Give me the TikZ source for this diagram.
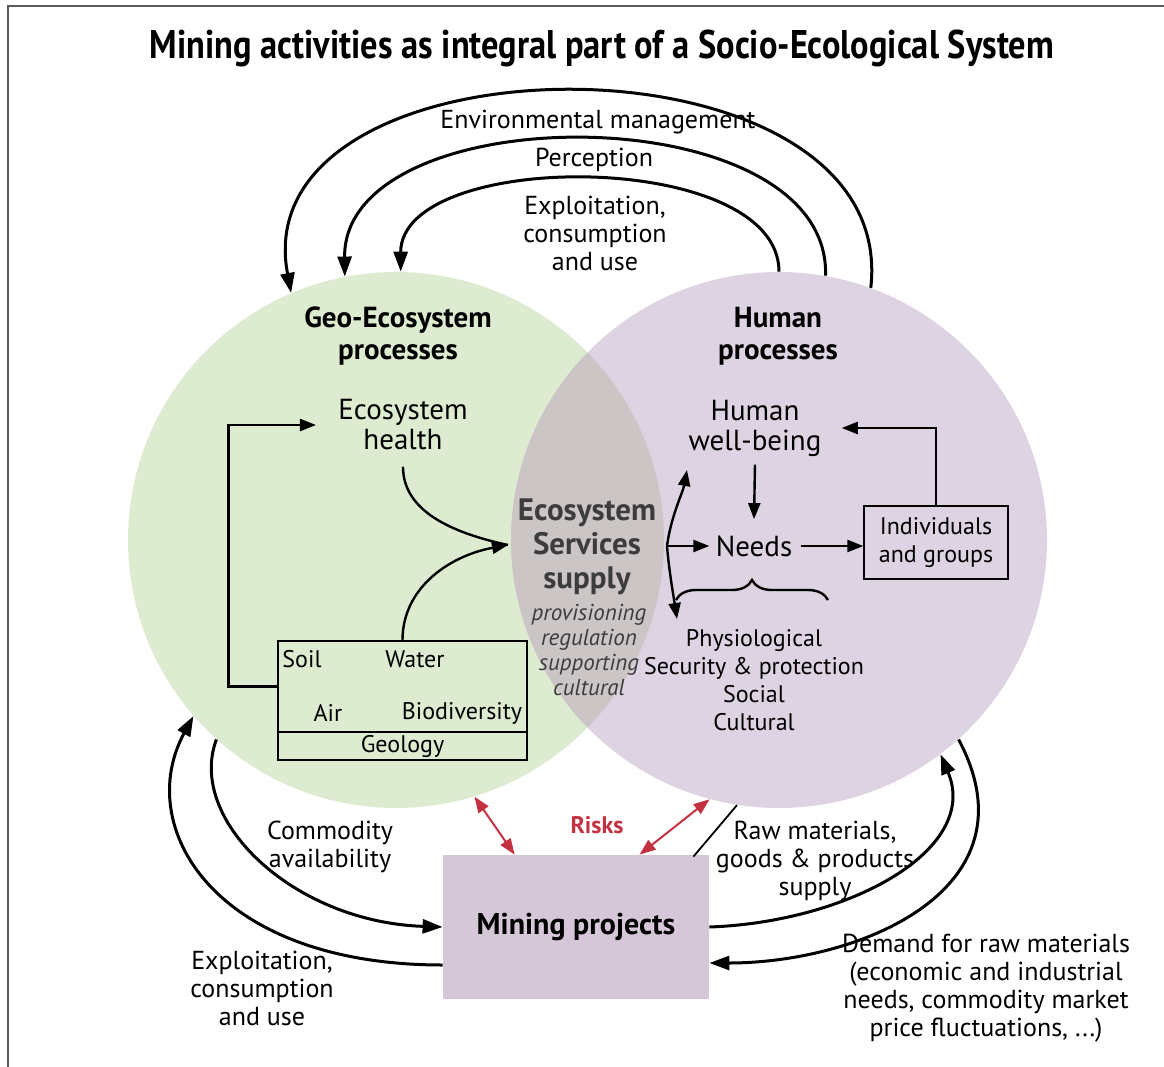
\documentclass[tikz,border=0pt]{standalone}
\usepackage{fontspec}
\setmainfont{PT Sans}
\usetikzlibrary{arrows.meta,decorations.pathreplacing,positioning}

\definecolor{geogreen}{RGB}{221,236,208}
\definecolor{humpurple}{RGB}{221,211,226}
\definecolor{lensgrey}{RGB}{203,197,197}
\definecolor{minepurple}{RGB}{214,199,216}
\definecolor{riskred}{RGB}{196,50,66}
\definecolor{esgrey}{RGB}{60,60,60}
\definecolor{framegrey}{RGB}{90,90,90}

\begin{document}
\begin{tikzpicture}[x=0.5pt,y=-0.5pt,
  txt/.style={align=center,inner sep=0pt,font=\fontsize{13}{14}\selectfont},
  sml/.style={align=center,inner sep=0pt,font=\fontsize{12}{14}\selectfont},
  big/.style={align=center,inner sep=0pt,font=\fontsize{14.5}{15}\selectfont},
  hd/.style={align=center,inner sep=0pt,font=\fontsize{14.5}{16}\selectfont\bfseries},
  ttl/.style={inner sep=0pt,font=\fontsize{20}{22}\selectfont\bfseries},
  esl/.style={align=center,inner sep=0pt,text=esgrey,font=\fontsize{15.5}{17}\selectfont\bfseries},
  itl/.style={align=center,inner sep=0pt,text=esgrey,font=\fontsize{11.5}{12.5}\selectfont\itshape},
  proc/.style={circle,inner sep=0pt,minimum size=268pt},
  cell/.style={draw,line width=0.7pt,inner sep=0pt},
  minebox/.style={fill=minepurple,inner sep=0pt,minimum width=133pt,minimum height=72pt,font=\fontsize{15}{17}\selectfont\bfseries},
  loopar/.style={line width=1.5pt,-{Triangle[length=10pt,width=7pt]}},
  arr/.style={line width=1.2pt,-{Triangle[length=8pt,width=6pt]}},
  riskar/.style={riskred,line width=1pt,{Triangle[length=8pt,width=6pt]}-{Triangle[length=8pt,width=6pt]}},
]
\useasboundingbox (0,0) rectangle (1164,1067);
\def\rad{268}   %radius of both process circles

% frame
\draw[framegrey,line width=0.8pt] (8,1067) -- (8,6) -- (1164,6);

% title
\node[ttl] (ttl) at (602,48) {\scalebox{0.86}[1]{Mining activities as integral part of a Socio-Ecological System}};

% process circles and their overlap
\node[proc,fill=geogreen] (geo) at (396,540) {};
\node[proc,fill=humpurple] (hum) at (779,540) {};
\begin{scope}
  \clip (396,540) circle[radius=\rad];
  \fill[lensgrey] (779,540) circle[radius=\rad];
\end{scope}

% loops on top
\draw[loopar] (hum.70) .. controls +(30,-265) and +(-50,-265) .. (geo.113);
\draw[loopar] (hum.80) .. controls +(5,-182) and +(-2,-182) .. (geo.101);
\draw[loopar] (hum.90) .. controls +(0,-123) and +(0,-123) .. (geo.89);
\node[txt] (envm) at (598,122) {Environmental management};
\node[txt] (perc) at (594,160) {Perception};
\node[txt] (expt) at (595,233) {Exploitation,\\consumption\\and use};

% headings
\node[hd] (geoh) at (398,336) {Geo-Ecosystem\\processes};
\node[hd] (humh) at (778,336) {Human\\processes};

% GEO-ECOSYSTEM side
\node[big] (esh) at (403,425) {Ecosystem\\health};
\node[cell,minimum width=124.5pt,minimum height=45.5pt] (elem) at (402.5,686.5) {};
\node[cell,sml,minimum width=124.5pt,minimum height=14pt] (geol) at (402.5,746) {Geology};
\node[sml] (soil) at (302,659) {Soil};
\node[sml] (watr) at (415,659) {Water};
\node[sml] (air) at (328,713) {Air};
\node[sml] (bio) at (462,713) {Biodiversity};
\draw[arr] (elem.west) -- ++(-49,0) |- ([xshift=-11pt]esh.west);

% ecosystem services
\node[esl] (ess) at (587,547) {Ecosystem\\Services\\supply};
\node[itl] (esk) at (589,650) {provisioning\\regulation\\supporting\\cultural};
\coordinate (estip) at (508,545);
\draw[arr,-] ([yshift=-8pt]esh.south) .. controls +(0,45) and +(-55,-12) .. (estip);
\draw[arr] (elem.north) .. controls +(0,-55) and +(-55,10) .. (estip);

% HUMAN side
\node[big] (hwb) at (755,428) {Human\\well-being};
\node[big] (nds) at (754,546) {Needs};
\node[cell,sml,minimum width=72pt,minimum height=36.5pt] (ind) at (936,542.5) {Individuals\\and groups};
\coordinate (br) at (667,546);
\coordinate (brup) at (687,470);
\coordinate (brdn) at (677,619);
\draw[arr] (br) .. controls +(4,-30) and +(-4,22) .. (brup);
\draw[arr] (br) .. controls +(2,25) and +(-3,-20) .. (brdn);
\draw[arr] (br) -- ([xshift=-3pt]nds.west);
\draw[arr] ([yshift=-4pt]hwb.south) -- ([yshift=8pt]nds.north);
\draw[arr] ([xshift=4pt]nds.east) -- (nds.east -| ind.west);
\draw[arr] (ind.north) |- ([xshift=10pt]hwb.east);
\draw[line width=1.2pt,decorate,decoration={brace,amplitude=10pt}] (676,600) -- (828,600);
\node[sml] (ndl) at (754,680) {Physiological\\Security \& protection\\Social\\Cultural};

% MINING
\node[minebox] (mine) at (576,927) {Mining projects};
\node[font=\fontsize{12}{14}\selectfont\bfseries,text=riskred,inner sep=0pt] (rsk) at (597,825) {Risks};
\draw[riskar] (geo.-73) -- ([xshift=36pt]mine.north west);
\draw[riskar] (hum.-105) -- ([xshift=98.5pt]mine.north west);
\draw[line width=0.9pt] (hum.-99) -- ([xshift=-8pt,yshift=-1pt]mine.north east);

% supply and demand
\draw[loopar] (mine.east) .. controls +(140,-5) and +(40,95) .. (hum.-53);
\draw[loopar] (hum.-48) .. controls +(80,150) and +(150,0) .. ([yshift=-18pt]mine.east);
\node[txt] (raw) at (815,861) {Raw materials,\\goods \& products\\supply};
\node[txt] (dem) at (986,988) {Demand for raw materials\\(economic and industrial\\needs, commodity market\\price fluctuations, ...)};

% availability and exploitation
\draw[loopar] (geo.228) .. controls +(-30,80) and +(-150,-5) .. (mine.west);
\draw[loopar] ([yshift=-19pt]mine.west) .. controls +(-230,0) and +(-60,110) .. (geo.221);
\node[txt] (cav) at (330,847) {Commodity\\availability};
\node[txt] (exb) at (262,988) {Exploitation,\\consumption\\and use};

\end{tikzpicture}
\end{document}
